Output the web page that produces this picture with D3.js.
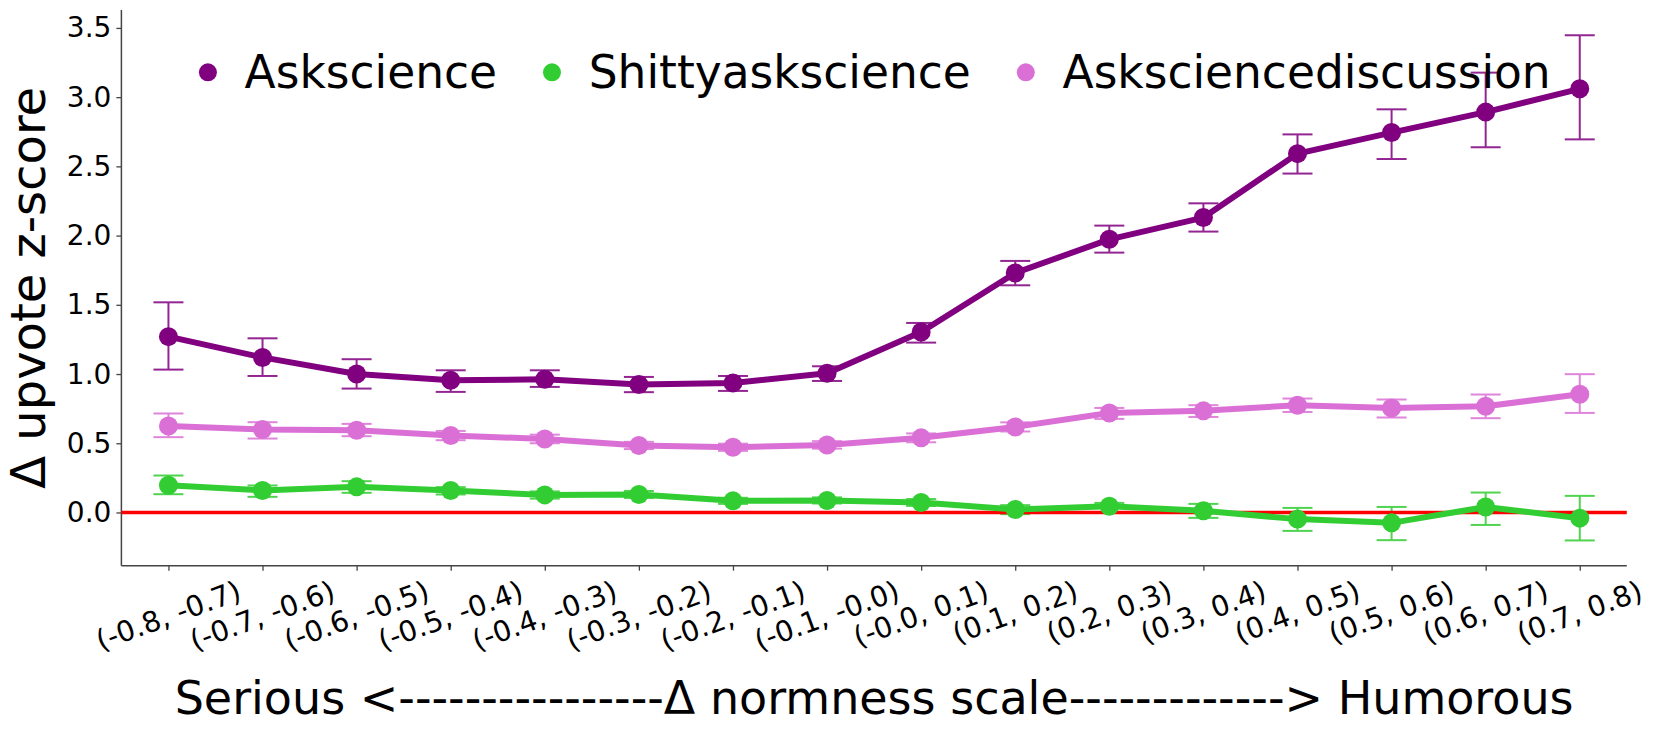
<!DOCTYPE html>
<html>
<head>
<meta charset="utf-8">
<script src="https://cdn.jsdelivr.net/npm/d3@7"></script>
<style>
  html, body { margin: 0; padding: 0; background: #fff; }
  svg { display: block; font-family: "DejaVu Sans", sans-serif; }
</style>
</head>
<body>
<svg id="chart" width="1661" height="734"></svg>
<script>
const categories = ["(-0.8, -0.7)", "(-0.7, -0.6)", "(-0.6, -0.5)", "(-0.5, -0.4)", "(-0.4, -0.3)", "(-0.3, -0.2)", "(-0.2, -0.1)", "(-0.1, -0.0)", "(-0.0, 0.1)", "(0.1, 0.2)", "(0.2, 0.3)", "(0.3, 0.4)", "(0.4, 0.5)", "(0.5, 0.6)", "(0.6, 0.7)", "(0.7, 0.8)"];

const askscience     = [1.270, 1.120, 1.000, 0.955, 0.962, 0.924, 0.936, 1.005, 1.304, 1.730, 1.973, 2.130, 2.592, 2.744, 2.892, 3.060];
const asksciLow      = [1.032, 0.986, 0.895, 0.871, 0.907, 0.869, 0.878, 0.950, 1.227, 1.641, 1.877, 2.029, 2.448, 2.553, 2.638, 2.695];
const asksciHigh     = [1.518, 1.258, 1.107, 1.027, 1.027, 0.979, 0.986, 1.056, 1.369, 1.817, 2.072, 2.233, 2.731, 2.912, 3.177, 3.447];

const shitty         = [0.197, 0.159, 0.185, 0.159, 0.127, 0.130, 0.084, 0.087, 0.072, 0.022, 0.045, 0.012, -0.048, -0.075, 0.040, -0.041];
const shittyLow      = [0.132, 0.113, 0.142, 0.130, 0.100, 0.105, 0.062, 0.065, 0.047, -0.012, 0.000, -0.039, -0.133, -0.200, -0.090, -0.202];
const shittyHigh     = [0.267, 0.195, 0.226, 0.183, 0.152, 0.155, 0.106, 0.109, 0.097, 0.053, 0.069, 0.062, 0.033, 0.040, 0.144, 0.120];

const discussion     = [0.625, 0.599, 0.594, 0.556, 0.531, 0.484, 0.471, 0.488, 0.539, 0.618, 0.719, 0.734, 0.775, 0.755, 0.767, 0.854];
const discLow        = [0.544, 0.534, 0.551, 0.522, 0.500, 0.458, 0.445, 0.461, 0.507, 0.585, 0.676, 0.690, 0.726, 0.686, 0.681, 0.719];
const discHigh       = [0.715, 0.652, 0.640, 0.589, 0.562, 0.510, 0.497, 0.515, 0.571, 0.651, 0.755, 0.775, 0.823, 0.816, 0.852, 0.999];

const seriesNames = ["Askscience", "Shittyaskscience", "Asksciencediscussion"];
const seriesColors = ["#800080", "#32CD32", "#DA70D6"];
const yTicks = [0.0, 0.5, 1.0, 1.5, 2.0, 2.5, 3.0, 3.5];
const xLabel = "Serious <" + "-".repeat(16) + "\u0394 normness scale" + "-".repeat(13) + "> Humorous";
const yLabel = "\u0394 upvote z-score";

(function () {
const series = [
  { name: seriesNames[0], color: seriesColors[0], mean: askscience, lo: asksciLow, hi: asksciHigh },
  { name: seriesNames[1], color: seriesColors[1], mean: shitty, lo: shittyLow, hi: shittyHigh },
  { name: seriesNames[2], color: seriesColors[2], mean: discussion, lo: discLow, hi: discHigh }
];

const svg = d3.select("#chart");
const pL = 121.4, pR = 1626.8, pT = 10, pB = 565.7;

const x = d3.scalePoint().domain(categories).range([pL, pR]).padding(0.5);
const allLo = d3.min(series, s => d3.min(s.lo)), allHi = d3.max(series, s => d3.max(s.hi));
const pad = (allHi - allLo) * 0.05;
const y = d3.scaleLinear().domain([allLo - pad, allHi + pad]).range([pB, pT]);

const axisColor = "#444";

// Y axis
const yAxis = svg.append("g").attr("transform", `translate(${pL},0)`)
  .call(d3.axisLeft(y).tickValues(yTicks).tickFormat(d3.format(".1f")).tickSize(5).tickPadding(5).tickSizeOuter(0));
yAxis.select(".domain").remove();
yAxis.selectAll(".tick line").attr("stroke", axisColor).attr("stroke-width", 1.3);
yAxis.selectAll(".tick text").attr("font-size", 28).attr("font-family", "DejaVu Sans").attr("fill", "#000");

// X axis
const xAxis = svg.append("g").attr("transform", `translate(0,${pB})`)
  .call(d3.axisBottom(x).tickSize(5).tickSizeOuter(0).tickFormat(""));
xAxis.select(".domain").remove();
xAxis.selectAll(".tick line").attr("stroke", axisColor).attr("stroke-width", 1.3);

// spines
svg.append("line").attr("x1", pL).attr("x2", pL).attr("y1", pT).attr("y2", pB)
  .attr("stroke", axisColor).attr("stroke-width", 1.5);
svg.append("line").attr("x1", pL).attr("x2", pR).attr("y1", pB).attr("y2", pB)
  .attr("stroke", axisColor).attr("stroke-width", 1.5);

// rotated x tick labels
const angle = 20, rad = angle * Math.PI / 180, fs = 28.5, glyphH = 25.5, labelTop = 578;
const xl = svg.append("g");
categories.forEach(c => {
  const t = xl.append("text").text(c).attr("font-size", fs).attr("font-family", "DejaVu Sans")
    .attr("text-anchor", "middle").attr("dominant-baseline", "central").attr("fill", "#000");
  const L = t.node().getComputedTextLength();
  const H = L * Math.sin(rad) + glyphH * Math.cos(rad);
  const cy = labelTop + H / 2;
  t.attr("transform", `translate(${x(c)},${cy}) rotate(${-angle})`);
});

// axis labels
svg.append("text").text(xLabel).attr("x", (pL + pR) / 2).attr("y", 714)
  .attr("text-anchor", "middle").attr("font-size", 46).attr("fill", "#000");
svg.append("text").text(yLabel).attr("transform", `translate(45,${(pT + pB) / 2}) rotate(-90)`)
  .attr("text-anchor", "middle").attr("font-size", 48).attr("fill", "#000");

const plot = svg.append("g");

// error bars
series.forEach(s => {
  const g = plot.append("g").attr("stroke", s.color).attr("stroke-width", 2).attr("opacity", 0.85);
  categories.forEach((c, i) => {
    const cx = x(c);
    g.append("line").attr("x1", cx).attr("x2", cx).attr("y1", y(s.lo[i])).attr("y2", y(s.hi[i]));
    g.append("line").attr("x1", cx - 15).attr("x2", cx + 15).attr("y1", y(s.lo[i])).attr("y2", y(s.lo[i]));
    g.append("line").attr("x1", cx - 15).attr("x2", cx + 15).attr("y1", y(s.hi[i])).attr("y2", y(s.hi[i]));
  });
});

// zero line
plot.append("line").attr("x1", pL).attr("x2", pR).attr("y1", y(0)).attr("y2", y(0))
  .attr("stroke", "#FF0000").attr("stroke-width", 3.5);

// lines and markers
const line = d3.line().x((d, i) => x(categories[i])).y(d => y(d));
series.forEach(s => {
  plot.append("path").datum(s.mean).attr("d", line).attr("fill", "none")
    .attr("stroke", s.color).attr("stroke-width", 6).attr("stroke-linejoin", "round");
  plot.append("g").selectAll("circle").data(s.mean).join("circle")
    .attr("cx", (d, i) => x(categories[i])).attr("cy", d => y(d)).attr("r", 9.5).attr("fill", s.color);
});

// legend
const leg = svg.append("g");
let mx = 207.9;
series.forEach(s => {
  leg.append("circle").attr("cx", mx).attr("cy", 72.3).attr("r", 9).attr("fill", s.color);
  const t = leg.append("text").text(s.name).attr("x", mx + 36.7).attr("y", 88.3)
    .attr("font-size", 45.5).attr("fill", "#000");
  const w = t.node().getComputedTextLength();
  mx = mx + 36.7 + w + 55;
});
})();
</script>
</body>
</html>
